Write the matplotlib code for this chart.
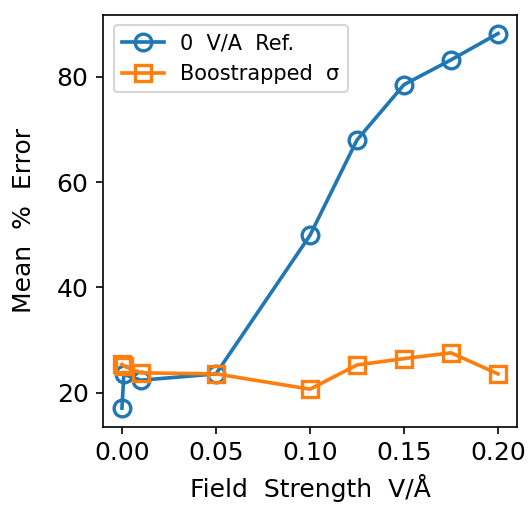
import numpy as np
import matplotlib
matplotlib.use('Agg')
import matplotlib.pyplot as plt

field = [0.0, 0.001, 0.01, 0.05, 0.1, 0.125, 0.15, 0.175, 0.2]
ref_err = [17.1, 23.5, 22.4, 23.6, 49.9, 68.0, 78.5, 83.2, 88.2]
boot_err = [25.4, 25.1, 23.8, 23.6, 20.7, 25.3, 26.5, 27.6, 23.6]

fig = plt.figure(figsize=(529 / 150, 510 / 150), dpi=150)
ax = fig.add_axes([0.195, 0.163, 0.782, 0.808])

ax.plot(field, ref_err, marker='o', fillstyle='none', markersize=8,
        markeredgewidth=1.6, linewidth=1.75, color='tab:blue', label='0  V/A  Ref.')
ax.plot(field, boot_err, marker='s', fillstyle='none', markersize=8,
        markeredgewidth=1.6, linewidth=1.75, color='tab:orange', label='Boostrapped  σ')

ax.set_xlabel('Field  Strength  V/Å', fontsize=12)
ax.set_ylabel('Mean  %  Error', fontsize=12, labelpad=10)
ax.tick_params(labelsize=12)
ax.set_xticks([0.0, 0.05, 0.1, 0.15, 0.2])
ax.set_yticks([20, 40, 60, 80])
ax.legend(loc='upper left', fontsize=10)

fig.savefig('out.png', dpi=150)
